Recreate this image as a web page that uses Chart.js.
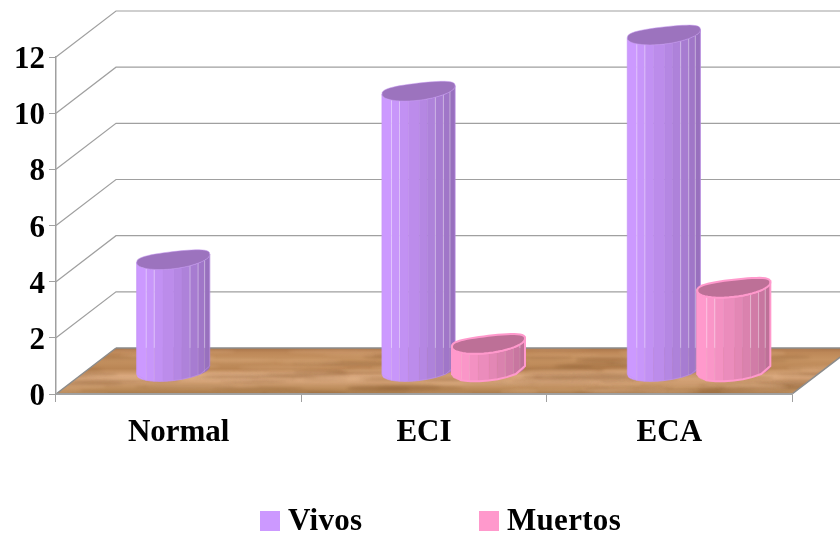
<!DOCTYPE html>
<html>
<head>
<meta charset="utf-8">
<title>Vivos y Muertos</title>
<script src="https://cdn.jsdelivr.net/npm/chart.js@4"></script>
<style>
    html, body { margin: 0; padding: 0; background: #fff; }
    canvas { display: block; }
</style>
</head>
<body>
<canvas id="chart" width="840" height="533"></canvas>
<script>
const categories = ['Normal', 'ECI', 'ECA'];
const vivos = [4, 10, 12];
const muertos = [0, 1, 3];
const yTicks = [0, 2, 4, 6, 8, 10, 12];

const FONT = '"Liberation Serif", "Times New Roman", serif';
const GRID = '#a0a0a0';
const DEPTH_X = 60, DEPTH_Y = 46;
const BAR_DX = 29.5, BAR_DY = 21.5;

// facet edges across a cylinder, as a fraction of its width
const facetEdges = [0, .13, .24, .36, .51, .62, .73, .84, .93, 1];
const lightEdges = [.13, .24, .73, .84, .93];

const palette = {
    Vivos: { front: [204, 153, 255], side: [152, 112, 190], cap: '#9c73be', edge: '#c496f0', edgeWidth: .5 },
    Muertos: { front: [255, 153, 204], side: [190, 112, 152], cap: '#bd7097', edge: '#ff99cc', edgeWidth: 2 },
};

// wood planks on the floor: stop position, colour
const floorStops = [
    [0, '#a8744a'], [.1, '#bd8858'], [.25, '#c69362'], [.45, '#b98554'], [.6, '#d8a77c'],
    [.75, '#cf9e72'], [.9, '#ba8a58'], [1, '#a87a4c'],
];

function drawFloor(ctx, area) {
    const back = area.bottom - DEPTH_Y;
    ctx.save();
    ctx.beginPath();
    ctx.moveTo(area.left, area.bottom);
    ctx.lineTo(area.right, area.bottom);
    ctx.lineTo(area.right + DEPTH_X, back);
    ctx.lineTo(area.left + DEPTH_X, back);
    ctx.closePath();
    const grad = ctx.createLinearGradient(0, back, 0, area.bottom);
    floorStops.forEach(s => grad.addColorStop(s[0], s[1]));
    ctx.fillStyle = grad;
    ctx.fill();
    ctx.clip();

    // grain streaks, fixed seed so the wood is the same on every load
    let seed = 7;
    const next = () => (seed = (seed * 16807) % 2147483647) / 2147483647;
    ctx.filter = 'blur(1.5px)';
    for (let i = 0; i < 150; i++) {
        const x = area.left + next() * (area.right - area.left + DEPTH_X);
        const y = back + next() * DEPTH_Y;
        const dark = next() > .55;
        ctx.fillStyle = dark ? 'rgba(120,76,36,.2)' : 'rgba(236,190,150,.22)';
        ctx.beginPath();
        ctx.ellipse(x, y, 18 + next() * 40, 1 + next() * 2, 0, 0, Math.PI * 2);
        ctx.fill();
    }
    ctx.restore();

    ctx.strokeStyle = '#8c8c8c';
    ctx.lineWidth = 1.5;
    ctx.beginPath();
    ctx.moveTo(area.left + DEPTH_X, back);
    ctx.lineTo(area.right + DEPTH_X, back);
    ctx.moveTo(area.left, area.bottom);
    ctx.lineTo(area.left + DEPTH_X, back);
    ctx.moveTo(area.left, area.bottom);
    ctx.lineTo(area.right, area.bottom);
    ctx.lineTo(area.right + DEPTH_X, back);
    ctx.stroke();
}

function drawWalls(ctx, area, yScale) {
    ctx.strokeStyle = GRID;
    ctx.lineWidth = 1.2;
    yTicks.forEach(v => {
        if (v === 0) return;
        const y = yScale.getPixelForValue(v);
        ctx.beginPath();
        ctx.moveTo(area.left, y);
        ctx.lineTo(area.left + DEPTH_X, y - DEPTH_Y);
        ctx.lineTo(area.right + DEPTH_X, y - DEPTH_Y);
        ctx.stroke();
    });
}

// point on the rim of a cylinder, a is the angle round it (0 right, PI/2 towards the viewer)
function rim(cx, cy, hw, a) {
    const c = Math.cos(a), s = Math.sin(a);
    const round = Math.sign(s) * Math.pow(Math.abs(s), .8);
    return [cx + hw * c, cy - 4.15 * c - 1.85 * c * c + 8.6 * round];
}

function tracePath(ctx, pts) {
    ctx.beginPath();
    pts.forEach((p, i) => i ? ctx.lineTo(p[0], p[1]) : ctx.moveTo(p[0], p[1]));
    ctx.closePath();
}

function frontRim(cx, cy, hw, f1, f2) {
    const pts = [];
    for (let i = 0; i <= 8; i++) {
        const f = f1 + (f2 - f1) * i / 8;
        pts.push(rim(cx, cy, hw, Math.acos(2 * f - 1)));
    }
    return pts;
}

function drawCylinder(ctx, bar, style, floorBack) {
    const cx = bar.x + BAR_DX;
    const hw = bar.width / 2;
    const top = bar.y - BAR_DY;
    const base = bar.base - BAR_DY;

    for (let i = 0; i < facetEdges.length - 1; i++) {
        const f1 = facetEdges[i], f2 = facetEdges[i + 1];
        const t = Math.pow(i / (facetEdges.length - 2), 1.2);
        const col = style.front.map((c, k) => Math.round(c + (style.side[k] - c) * t));
        tracePath(ctx, frontRim(cx, top, hw, f1, f2).concat(frontRim(cx, base, hw, f1, f2).reverse()));
        ctx.fillStyle = `rgb(${col.join(',')})`;
        ctx.fill();
        ctx.strokeStyle = ctx.fillStyle;
        ctx.lineWidth = .5;
        ctx.stroke();
    }

    // pale seams between facets, fainter where they cross the floor
    lightEdges.forEach(f => {
        const x = cx + hw * (2 * f - 1);
        const y1 = frontRim(cx, top, hw, f, f)[0][1];
        const y2 = frontRim(cx, base, hw, f, f)[0][1];
        const split = Math.max(y1, Math.min(y2, floorBack));
        ctx.lineWidth = 1;
        ctx.strokeStyle = 'rgba(255,255,255,.4)';
        ctx.beginPath();
        ctx.moveTo(x, y1);
        ctx.lineTo(x, split);
        ctx.stroke();
        ctx.strokeStyle = 'rgba(255,255,255,.15)';
        ctx.beginPath();
        ctx.moveTo(x, split);
        ctx.lineTo(x, y2);
        ctx.stroke();
    });

    // outer edge and the cap
    const outline = frontRim(cx, top, hw, 0, 1).concat(frontRim(cx, base, hw, 0, 1).reverse());
    tracePath(ctx, outline);
    ctx.strokeStyle = style.edge;
    ctx.lineWidth = style.edgeWidth;
    ctx.stroke();

    const cap = [];
    for (let i = 0; i < 48; i++) cap.push(rim(cx, top, hw, i / 48 * Math.PI * 2));
    tracePath(ctx, cap);
    ctx.fillStyle = style.cap;
    ctx.fill();
    ctx.strokeStyle = style.edge;
    ctx.stroke();
}

const cylinders = {
    id: 'cylinders',
    beforeDraw(chart) {
        drawWalls(chart.ctx, chart.chartArea, chart.scales.y);
        drawFloor(chart.ctx, chart.chartArea);
    },
    // the flat bars are replaced by the cylinders drawn below
    beforeDatasetDraw() {
        return false;
    },
    afterDatasetsDraw(chart) {
        const ctx = chart.ctx;
        const floorBack = chart.chartArea.bottom - DEPTH_Y;
        ctx.save();
        chart.data.datasets.forEach((ds, i) => {
            chart.getDatasetMeta(i).data.forEach((bar, j) => {
                if (ds.data[j] > 0) drawCylinder(ctx, bar, palette[ds.label], floorBack);
            });
        });
        ctx.restore();
    },
    afterDraw(chart) {
        const ctx = chart.ctx;
        const yScale = chart.scales.y;
        ctx.save();
        ctx.font = 'bold 31px ' + FONT;
        ctx.fillStyle = '#000';

        // y labels, sat a little lower than the scale's own middle baseline would put them
        ctx.textAlign = 'right';
        ctx.textBaseline = 'alphabetic';
        yScale.ticks.forEach(t => {
            ctx.fillText(t.label, 45, yScale.getPixelForValue(t.value) + 11);
        });

        // legend
        const slots = [260, 479];
        ctx.textAlign = 'left';
        ctx.letterSpacing = '0.3px';
        chart.data.datasets.forEach((ds, i) => {
            ctx.fillStyle = ds.backgroundColor;
            ctx.fillRect(slots[i], 511, 20, 20);
            ctx.fillStyle = '#000';
            ctx.fillText(ds.label, slots[i] + 28, 530);
        });
        ctx.restore();
    },
};

new Chart(document.getElementById('chart'), {
    type: 'bar',
    data: {
        labels: categories,
        datasets: [
            { label: 'Vivos', data: vivos, backgroundColor: '#cc99ff' },
            { label: 'Muertos', data: muertos, backgroundColor: '#ff99cc' },
        ],
    },
    options: {
        responsive: false,
        animation: false,
        events: [],
        categoryPercentage: .57,
        barPercentage: 1.045,
        layout: {
            autoPadding: false,
            padding: { left: 0, right: 48, top: 57, bottom: 0 },
        },
        plugins: {
            legend: { display: false },
            tooltip: { enabled: false },
        },
        scales: {
            x: {
                afterFit: s => { s.height = 139; },
                grid: { drawOnChartArea: false, tickLength: 8, color: GRID },
                border: { color: GRID, width: 1.5 },
                ticks: {
                    color: '#000',
                    padding: 12,
                    maxRotation: 0,
                    font: { family: FONT, size: 31, weight: 'bold' },
                },
            },
            y: {
                min: 0,
                max: 12,
                afterFit: s => { s.width = 56; },
                grid: { drawOnChartArea: false, tickLength: 7, color: GRID },
                border: { color: GRID, width: 1.5 },
                ticks: {
                    display: false,
                    stepSize: 2,
                },
            },
        },
    },
    plugins: [cylinders],
});
</script>
</body>
</html>
